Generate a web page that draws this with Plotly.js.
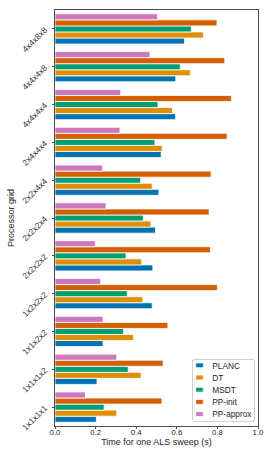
<!DOCTYPE html>
<html>
<head>
<meta charset="utf-8">
<script src="https://cdn.plot.ly/plotly-3.0.1.min.js"></script>
<style>html,body{margin:0;padding:0;background:#fff;}#chart{width:274px;height:457px;}</style>
</head>
<body>
<div id="chart"></div>
<script>
const grids = ["1x1x1x1","1x1x1x2","1x1x2x2","1x2x2x2","2x2x2x2","2x2x2x4","2x2x4x4","2x4x4x4","4x4x4x4","4x4x4x8","4x4x8x8"];
const planc    = [0.204,0.207,0.237,0.479,0.482,0.495,0.512,0.523,0.594,0.595,0.638];
const dt       = [0.304,0.424,0.387,0.433,0.427,0.473,0.479,0.528,0.579,0.667,0.731];
const msdt     = [0.242,0.361,0.338,0.356,0.350,0.435,0.422,0.492,0.507,0.617,0.672];
const ppInit   = [0.527,0.533,0.556,0.800,0.766,0.759,0.769,0.848,0.869,0.836,0.798];
const ppApprox = [0.150,0.304,0.237,0.225,0.199,0.251,0.235,0.320,0.324,0.468,0.505];

const seriesNames = ["PLANC","DT","MSDT","PP-init","PP-approx"];
const seriesData = [planc, dt, msdt, ppInit, ppApprox];
const colors = ["#0173b2","#de8f05","#029e73","#d55e00","#cc78bc"];

const traces = seriesNames.map((n,i)=>({
  type:'bar', orientation:'h', name:n, y:grids, x:seriesData[i],
  marker:{color:colors[i], line:{color:'#ffffff', width:0.8}}
}));

const txt = '#262626';
const layout = {
  width:274, height:457,
  margin:{l:54.5, r:16, t:9.5, b:31.3, pad:0},
  paper_bgcolor:'#fff', plot_bgcolor:'#fff',
  font:{family:'Liberation Sans, Arial, sans-serif', size:9, color:txt},
  barmode:'group', bargap:0.2, bargroupgap:0,
  showlegend:true,
  legend:{x:0.98, y:0.012, xanchor:'right', yanchor:'bottom',
    bordercolor:'#d0d0d0', borderwidth:1, bgcolor:'#fff',
    font:{size:8.3, color:txt}, tracegroupgap:0, itemwidth:30},
  xaxis:{range:[0,1], tickvals:[0,0.2,0.4,0.6,0.8,1.0], ticktext:['0.0','0.2','0.4','0.6','0.8','1.0'],
    showgrid:false, zeroline:false, showline:true, mirror:true, linecolor:'#4d4d4d', linewidth:1,
    ticks:'outside', ticklen:2, tickcolor:'#4d4d4d', tickfont:{size:7.8, color:txt}, ticklabelstandoff:-3,
    title:{text:'Time for one ALS sweep (s)', font:{size:9, color:txt}, standoff:2}},
  yaxis:{type:'category', categoryorder:'array', categoryarray:grids,
    showgrid:false, zeroline:false, showline:true, mirror:true, linecolor:'#4d4d4d', linewidth:1,
    ticks:'outside', ticklen:2.5, tickcolor:'#4d4d4d', tickangle:-45, tickfont:{size:8.4, color:'#3a3a3a'}, ticklabelstandoff:5,
    title:{text:'Processor grid', font:{size:9, color:txt}, standoff:3}}
};

function tidyLegend(gd){
  const leg = gd.querySelector('g.legend');
  if(!leg) return;
  const W = 61.7, step = 12.2, H = step*5 + 0.7;
  leg.setAttribute('transform', 'translate(192.3,359)');
  const bg = leg.querySelector('rect.bg');
  if(bg){ bg.setAttribute('width', W); bg.setAttribute('height', H); bg.setAttribute('rx', 2); bg.setAttribute('ry', 2); }
  const items = leg.querySelectorAll('g.traces');
  items.forEach((it, i) => {
    it.setAttribute('transform', 'translate(0,' + (6.3 + step*i) + ')');
    it.querySelectorAll('.legendpoints path').forEach(p => {
      p.setAttribute('d', 'M3.8,2.4H-3.8V-2.4H3.8Z');
      p.setAttribute('transform', 'translate(7.2,0)');
    });
    const t = it.querySelector('text.legendtext');
    if(t) t.setAttribute('x', 20);
    const r = it.querySelector('rect.legendtoggle');
    if(r){ r.setAttribute('height', step); r.setAttribute('y', -step/2); }
  });
  const clip = gd.querySelector('defs clipPath[id^="legend"] rect') ;
  if(clip){ clip.setAttribute('width', W+2); clip.setAttribute('height', H+2); }
}

Plotly.newPlot('chart', traces, layout, {staticPlot:true, displayModeBar:false}).then(tidyLegend);
</script>
</body>
</html>
